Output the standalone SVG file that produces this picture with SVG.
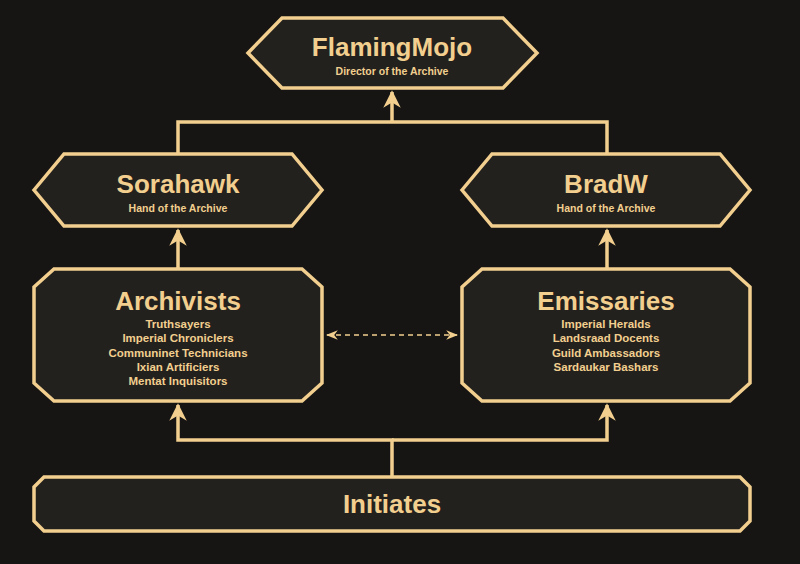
<svg xmlns="http://www.w3.org/2000/svg" width="800" height="564" viewBox="0 0 800 564">
<style>
.n{fill:#23211e;stroke:#f2cf8e;stroke-width:3.5;stroke-linejoin:miter}
.c{fill:none;stroke:#f2cf8e;stroke-width:3.5}
text{fill:#f2cf8e;font-family:"Liberation Sans",Arial,sans-serif;font-weight:bold;text-anchor:middle}
.t{font-size:26px}.s{font-size:10.5px}.m{font-size:11.5px}
</style>
<defs>
<marker id="a" viewBox="0 0 10 10" refX="9" refY="5" markerWidth="5" markerHeight="5" orient="auto-start-reverse" markerUnits="strokeWidth"><path d="M0,0L10,5L0,10L3,5Z" fill="#f2cf8e"/></marker>
<marker id="b" viewBox="0 0 10 10" refX="9" refY="5" markerWidth="8" markerHeight="8" orient="auto-start-reverse" markerUnits="strokeWidth"><path d="M0,1L10,5L0,9L3,5Z" fill="#f2cf8e"/></marker>
</defs>
<rect width="800" height="564" fill="#161514"/>
<g id="connectors">
<path class="c" d="M178,154V122H607V154"/>
<path class="c" d="M392,122V92" marker-end="url(#a)"/>
<path class="c" d="M178,269V230" marker-end="url(#a)"/>
<path class="c" d="M607,269V230" marker-end="url(#a)"/>
<path class="c" d="M392,477V440H178V405" marker-end="url(#a)"/>
<path class="c" d="M392,440H607V405" marker-end="url(#a)"/>
<path d="M327,335H457" fill="none" stroke="#f2cf8e" stroke-width="1.5" stroke-dasharray="5,4" marker-start="url(#b)" marker-end="url(#b)"/>
</g>
<g id="flamingmojo"><path class="n" d="M248,53L282,18H503L537,53L503,88H282Z"/><text x="392" y="56" class="t">FlamingMojo</text><text x="392" y="75" class="s">Director of the Archive</text></g>
<g id="sorahawk"><path class="n" d="M34,190L64,154H292L322,190L292,226H64Z"/><text x="178" y="193" class="t">Sorahawk</text><text x="178" y="212" class="s">Hand of the Archive</text></g>
<g id="bradw"><path class="n" d="M462,190L492,154H720L750,190L720,226H492Z"/><text x="606" y="193" class="t">BradW</text><text x="606" y="212" class="s">Hand of the Archive</text></g>
<g id="archivists"><path class="n" d="M54,269H302L322,287V383L302,401H54L34,383V287Z"/><text x="178" y="310" class="t">Archivists</text>
<text class="m" x="178" y="328">Truthsayers</text><text class="m" x="178" y="342">Imperial Chroniclers</text><text class="m" x="178" y="357">Communinet Technicians</text><text class="m" x="178" y="371">Ixian Artificiers</text><text class="m" x="178" y="385">Mentat Inquisitors</text></g>
<g id="emissaries"><path class="n" d="M482,269H730L750,287V383L730,401H482L462,383V287Z"/><text x="606" y="310" class="t">Emissaries</text>
<text class="m" x="606" y="328">Imperial Heralds</text><text class="m" x="606" y="342">Landsraad Docents</text><text class="m" x="606" y="357">Guild Ambassadors</text><text class="m" x="606" y="371">Sardaukar Bashars</text></g>
<g id="initiates"><path class="n" d="M44,477H740L750,487V521L740,531H44L34,521V487Z"/><text x="392" y="513" class="t">Initiates</text></g>
</svg>
